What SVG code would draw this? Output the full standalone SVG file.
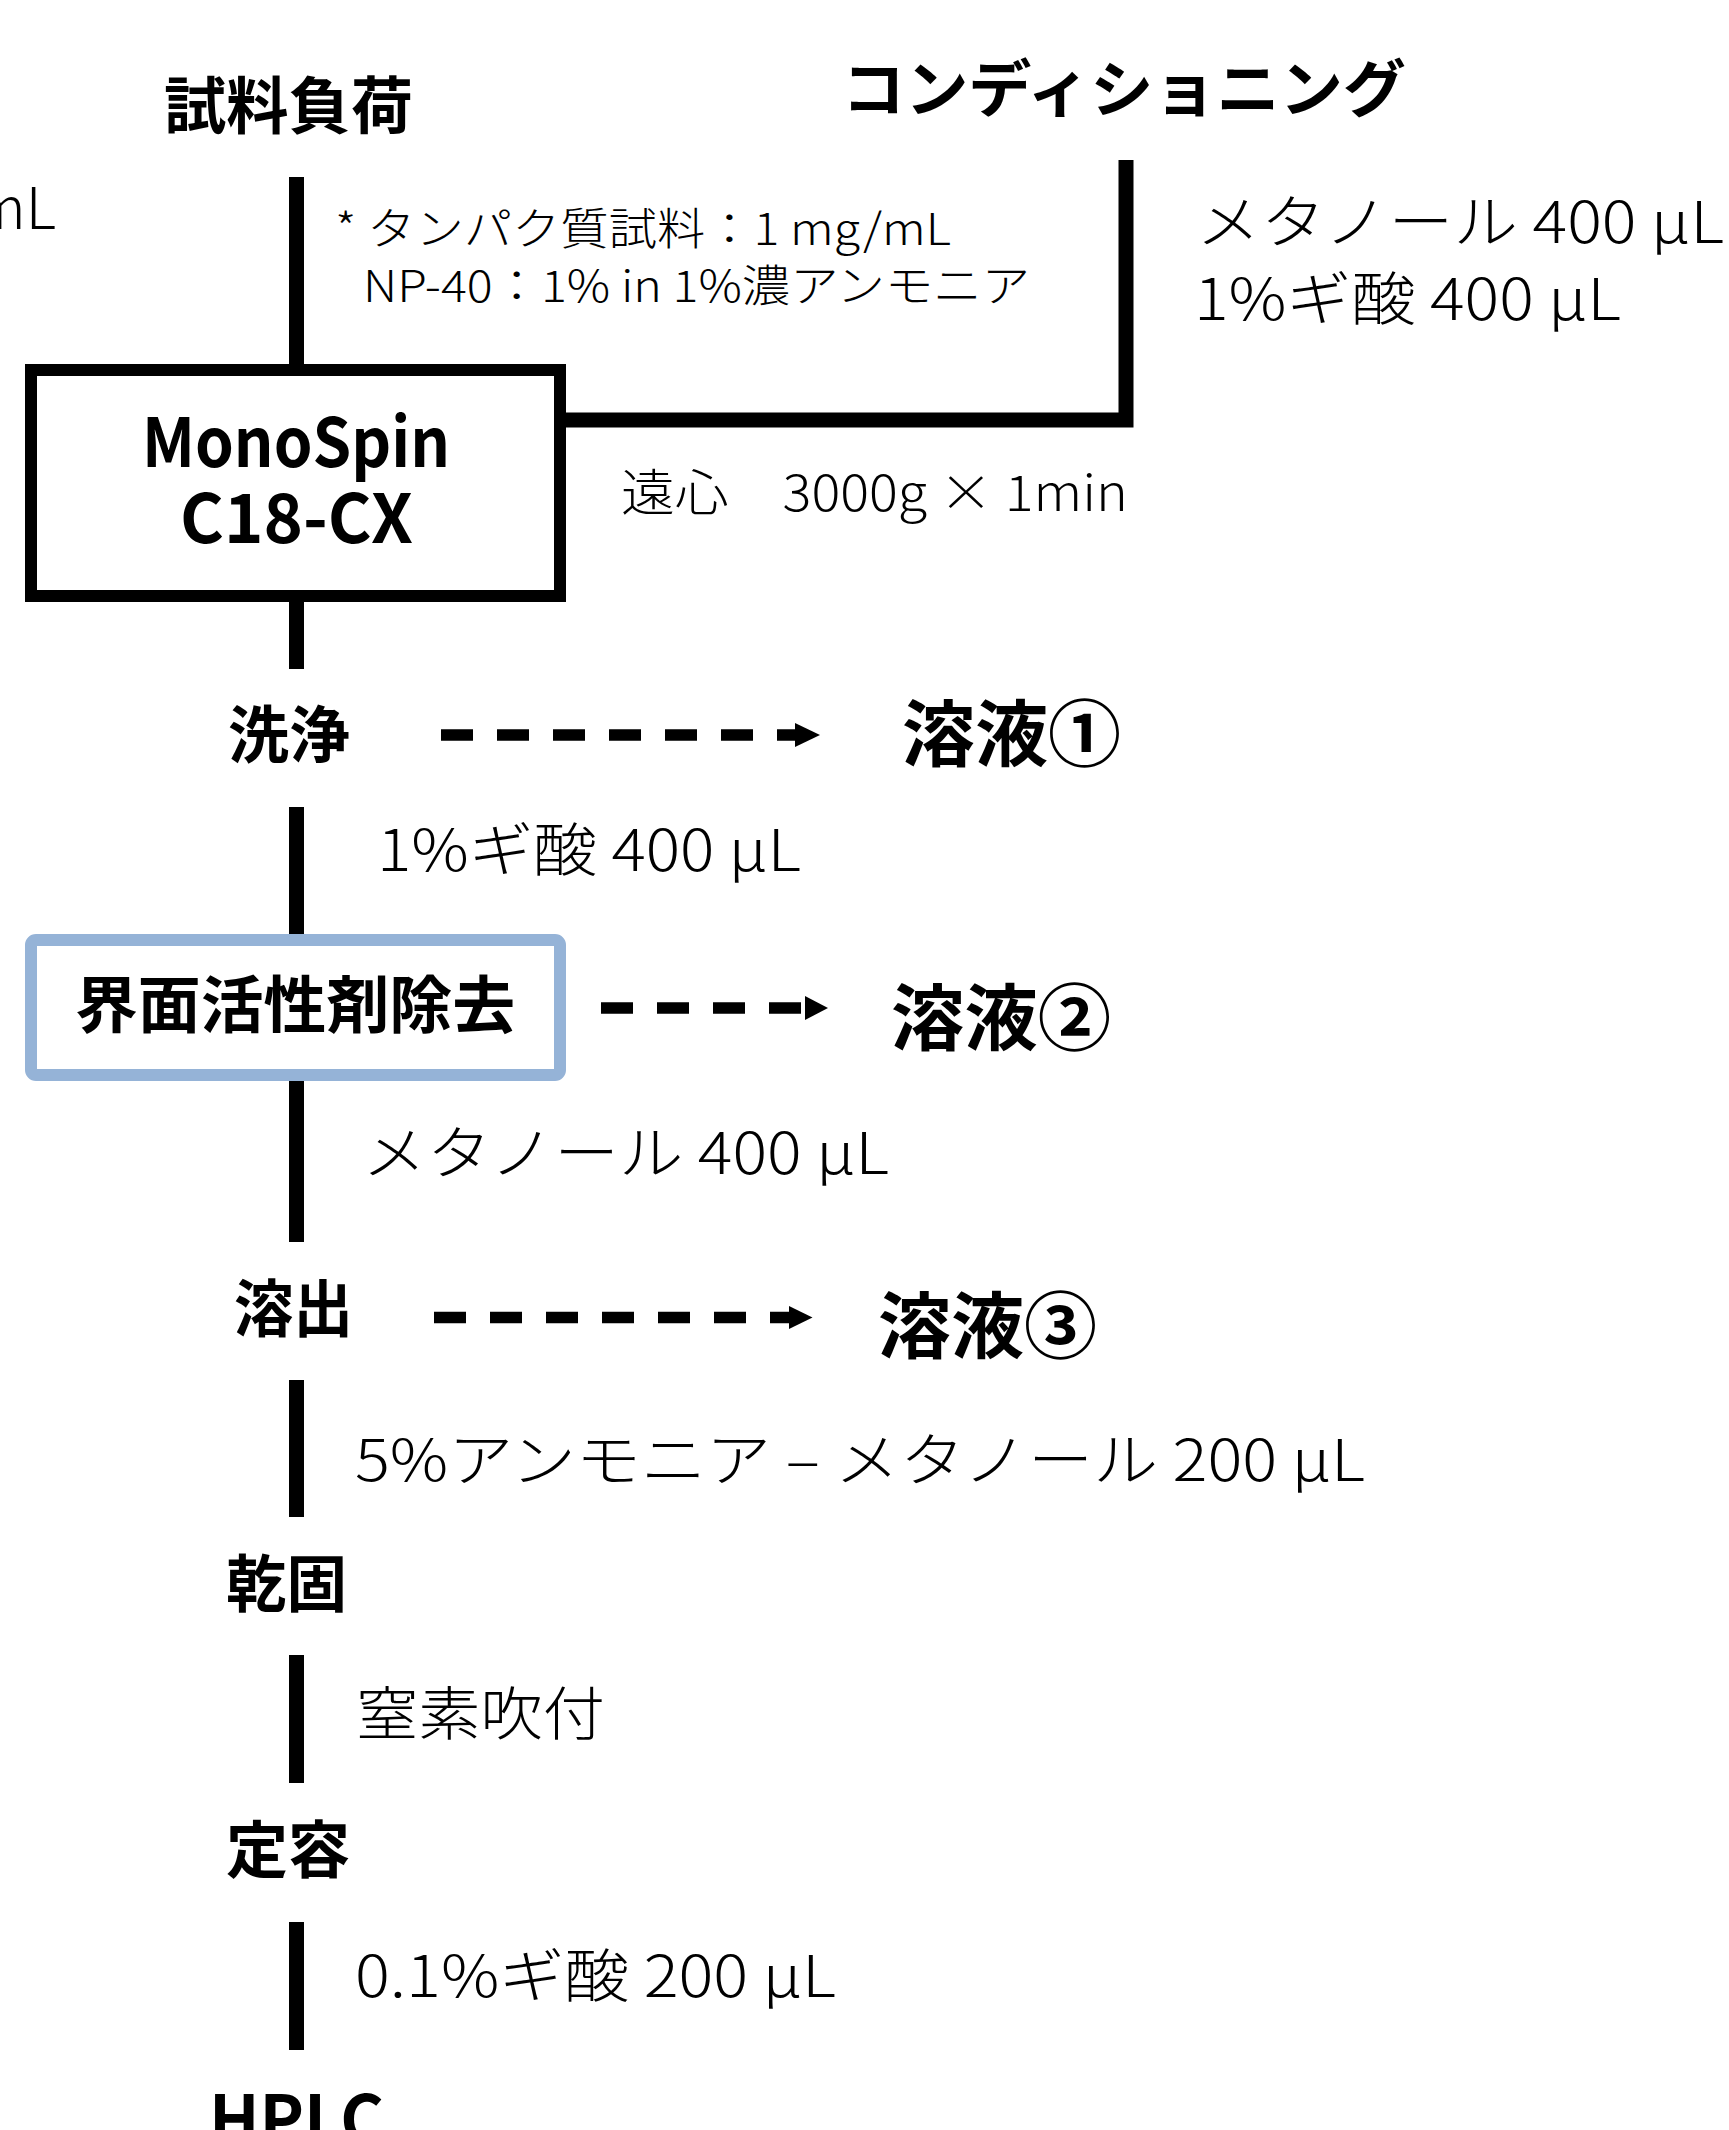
<svg xmlns="http://www.w3.org/2000/svg" width="1729" height="2130" viewBox="0 0 1729 2130">
<style>
  text { font-family: "Noto Sans CJK JP", "Noto Sans", sans-serif; fill: #000; }
  .h { font-weight: 700; font-size: 62px; }
  .sol { font-weight: 700; font-size: 72px; }
  .box { font-weight: 700; font-size: 68px; }
  .n { font-weight: 300; font-size: 58px; }
  .s { font-weight: 300; font-size: 44px; }
  .m { font-weight: 300; font-size: 50px; }
  .flow { stroke: #000; stroke-width: 15; fill: none; stroke-linejoin: miter; }
  .dash { stroke: #000; stroke-width: 11.5; stroke-dasharray: 32 24; fill: none; }
</style>
<rect x="0" y="0" width="1729" height="2130" fill="#fff"/>

<g id="connectors">
  <line class="flow" x1="296.5" y1="177" x2="296.5" y2="366"/>
  <path class="flow" d="M560 420 H1126 V160"/>
  <line class="flow" x1="296.5" y1="600" x2="296.5" y2="669"/>
  <line class="flow" x1="296.5" y1="807" x2="296.5" y2="936"/>
  <line class="flow" x1="296.5" y1="1079" x2="296.5" y2="1242"/>
  <line class="flow" x1="296.5" y1="1380" x2="296.5" y2="1517"/>
  <line class="flow" x1="296.5" y1="1655" x2="296.5" y2="1783"/>
  <line class="flow" x1="296.5" y1="1922" x2="296.5" y2="2050"/>
  <line class="dash" x1="441" y1="735" x2="800" y2="735"/>
  <polygon points="795,723 820,735 795,747" fill="#000"/>
  <line class="dash" x1="601" y1="1008" x2="808" y2="1008"/>
  <polygon points="805,996 828,1008 805,1020" fill="#000"/>
  <line class="dash" x1="434" y1="1317.5" x2="793" y2="1317.5"/>
  <polygon points="789,1306 812.5,1317.5 789,1329" fill="#000"/>
</g>

<g id="cut-label">
  <text x="56" y="229" text-anchor="end" font-size="58" font-weight="300">mL</text>
</g>

<g id="sample-loading">
  <text class="h" x="164" y="129" textLength="249" lengthAdjust="spacingAndGlyphs">試料負荷</text>
  <text class="s" x="335" y="245" textLength="616" lengthAdjust="spacingAndGlyphs">* タンパク質試料：1 mg/mL</text>
  <text class="s" x="363" y="302" textLength="667" lengthAdjust="spacingAndGlyphs">NP-40：1% in 1%濃アンモニア</text>
</g>

<g id="conditioning">
  <text class="h" x="842" y="112" textLength="564" lengthAdjust="spacingAndGlyphs">コンディショニング</text>
  <text class="n" x="1196" y="243" textLength="528" lengthAdjust="spacingAndGlyphs">メタノール 400 μL</text>
  <text class="n" x="1194" y="320" textLength="427" lengthAdjust="spacingAndGlyphs">1%ギ酸 400 μL</text>
</g>

<g id="monospin">
  <rect x="31" y="370" width="529" height="226" fill="#fff" stroke="#000" stroke-width="12"/>
  <text class="box" x="296" y="467" text-anchor="middle" textLength="308" lengthAdjust="spacingAndGlyphs">MonoSpin</text>
  <text class="box" x="296.5" y="543" text-anchor="middle" textLength="233" lengthAdjust="spacingAndGlyphs">C18-CX</text>
</g>

<g id="centrifuge">
  <text class="m" x="621" y="511" textLength="507" lengthAdjust="spacingAndGlyphs">遠心　3000g × 1min</text>
</g>

<g id="wash">
  <text class="h" x="228" y="758" textLength="122" lengthAdjust="spacingAndGlyphs">洗浄</text>
  <text class="n" x="377" y="871" textLength="424" lengthAdjust="spacingAndGlyphs">1%ギ酸 400 μL</text>
</g>

<g id="solution1">
  <text class="sol" x="902" y="760" textLength="219" lengthAdjust="spacingAndGlyphs">溶液①</text>
</g>

<g id="surfactant-removal">
  <rect x="31" y="940" width="529" height="135" rx="5" fill="#fff" stroke="#95B3D7" stroke-width="12"/>
  <text class="h" x="75" y="1028" textLength="440" lengthAdjust="spacingAndGlyphs">界面活性剤除去</text>
  <text class="n" x="362" y="1174" textLength="527" lengthAdjust="spacingAndGlyphs">メタノール 400 μL</text>
</g>

<g id="solution2">
  <text class="sol" x="891" y="1044" textLength="220" lengthAdjust="spacingAndGlyphs">溶液②</text>
</g>

<g id="elution">
  <text class="h" x="234" y="1332" textLength="119" lengthAdjust="spacingAndGlyphs">溶出</text>
  <text class="n" x="355" y="1481" textLength="1010" lengthAdjust="spacingAndGlyphs">5%アンモニア – メタノール 200 μL</text>
</g>

<g id="solution3">
  <text class="sol" x="878" y="1352" textLength="219" lengthAdjust="spacingAndGlyphs">溶液③</text>
</g>

<g id="drying">
  <text class="h" x="226" y="1607" textLength="121" lengthAdjust="spacingAndGlyphs">乾固</text>
  <text class="n" x="356" y="1735" textLength="249" lengthAdjust="spacingAndGlyphs">窒素吹付</text>
</g>

<g id="reconstitution">
  <text class="h" x="226" y="1873" textLength="124" lengthAdjust="spacingAndGlyphs">定容</text>
  <text class="n" x="355" y="1997" textLength="481" lengthAdjust="spacingAndGlyphs">0.1%ギ酸 200 μL</text>
</g>

<g id="hplc">
  <text class="box" x="209" y="2144" textLength="175" lengthAdjust="spacingAndGlyphs">HPLC</text>
</g>
</svg>
